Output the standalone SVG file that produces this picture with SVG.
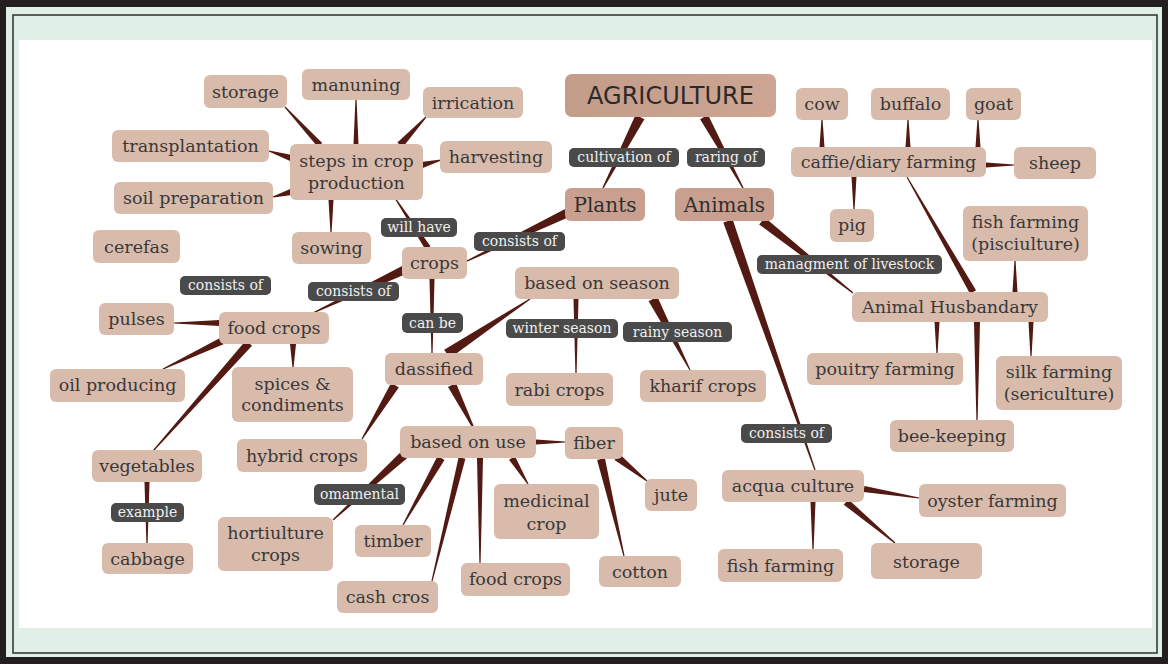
<svg xmlns="http://www.w3.org/2000/svg" width="1168" height="664" viewBox="0 0 1168 664">
<style>
.n rect{fill:#d9bbac;}
.n text{font-family:"DejaVu Serif",serif;font-size:17.5px;fill:#383838;text-anchor:middle;}
.b rect{fill:#c9a08f;}
.b text{font-family:"DejaVu Serif",serif;font-size:20px;fill:#2e2e2e;text-anchor:middle;}
.l rect{fill:#4a4a4a;}
.l text{font-family:"DejaVu Serif",serif;font-size:14px;fill:#f0f0f0;text-anchor:middle;}
#connectors polygon{fill:#521a12;}
</style>
<defs>
<linearGradient id="ag" x1="0" y1="0" x2="1" y2="0">
<stop offset="0" stop-color="#c39c8a"/><stop offset="1" stop-color="#cda592"/>
</linearGradient>
</defs>
<rect x="0" y="0" width="1168" height="664" fill="#231f20"/>
<rect x="6" y="7" width="1156" height="650" fill="#e1f0e6"/>
<rect x="13" y="15" width="1144" height="638" fill="none" stroke="#3a3a3a" stroke-width="1.6"/>
<rect x="19" y="40" width="1133" height="588" fill="#ffffff"/>

<g id="connectors">
<polygon points="635.6,114.7 602.4,187.7 603.6,188.3 644.4,119.3"/>
<polygon points="700.1,119.2 742.4,188.3 743.6,187.7 708.0,114.8"/>
<polygon points="565.1,209.0 464.7,261.5 465.3,262.5 569.0,217.1"/>
<polygon points="402.1,265.9 312.7,312.5 313.3,313.5 405.9,274.1"/>
<polygon points="430.5,246.3 395.5,197.7 394.5,198.3 425.5,249.7"/>
<polygon points="429.5,279 431.4,353 432.6,353 434.5,279"/>
<polygon points="449.8,358.2 530.3,299.5 529.7,298.5 444.2,349.8"/>
<polygon points="573.5,299 575.4,373 576.6,373 578.5,299"/>
<polygon points="648.6,301.3 689.5,370.3 690.5,369.7 657.4,296.7"/>
<polygon points="391.2,382.7 361.5,438.7 362.5,439.3 398.8,387.4"/>
<polygon points="448.0,387.0 472.1,427.4 473.9,426.6 456.0,383.0"/>
<polygon points="536,439.5 565,441.4 565,442.6 536,444.5"/>
<polygon points="614.5,460.1 646.6,481.5 647.4,480.5 619.5,453.9"/>
<polygon points="597.1,459.9 623.4,556.1 624.6,555.9 604.9,458.1"/>
<polygon points="509.0,459.8 527.5,484.3 528.5,483.7 515.0,456.2"/>
<polygon points="477,458 479.4,563 480.6,563 483,458"/>
<polygon points="458.6,457.2 431.4,580.9 432.6,581.1 465.4,458.8"/>
<polygon points="437.5,456.0 402.5,524.7 403.5,525.3 444.5,460.0"/>
<polygon points="401.0,451.7 332.6,519.6 333.4,520.4 407.0,458.3"/>
<polygon points="220,320 174,322.4 174,323.6 220,326"/>
<polygon points="220.5,337.8 162.7,368.5 163.3,369.5 223.5,344.2"/>
<polygon points="246.0,340.3 152.6,450.6 153.4,451.4 252.0,345.7"/>
<polygon points="290,344 292.4,367 293.6,367 296,344"/>
<polygon points="144.5,482 146.4,543 147.6,543 149.5,482"/>
<polygon points="322.2,143.0 285.4,106.6 284.6,107.4 317.8,147.0"/>
<polygon points="353.5,144 355.4,100 356.6,100 358.5,144"/>
<polygon points="402.6,147.4 426.4,117.4 425.6,116.6 397.4,142.6"/>
<polygon points="291.9,155.1 269.2,150.4 268.8,151.6 290.1,160.9"/>
<polygon points="290.2,189.1 272.8,196.4 273.2,197.6 291.8,194.9"/>
<polygon points="422.8,167.9 441.2,160.6 440.8,159.4 421.2,162.1"/>
<polygon points="328.5,200 330.4,232 331.6,232 333.5,200"/>
<polygon points="759.2,224.5 852.6,293.5 853.4,292.5 764.8,217.5"/>
<polygon points="723.3,222.6 814.4,470.2 815.6,469.8 732.7,219.4"/>
<polygon points="976.0,290.3 907.5,176.7 906.5,177.3 970.0,293.7"/>
<polygon points="819.5,147 821.4,120 822.6,120 824.5,147"/>
<polygon points="905.5,147 907.4,120 908.6,120 910.5,147"/>
<polygon points="975.5,147 977.4,120 978.6,120 980.5,147"/>
<polygon points="986,162.5 1014,164.4 1014,165.6 986,167.5"/>
<polygon points="851.5,177 853.4,209 854.6,209 856.5,177"/>
<polygon points="1012.5,292 1014.4,261 1015.6,261 1017.5,292"/>
<polygon points="934.5,322 936.4,353 937.6,353 939.5,322"/>
<polygon points="974,322 976.4,420 977.6,420 980,322"/>
<polygon points="1028.5,322 1030.4,356 1031.6,356 1033.5,322"/>
<polygon points="863.5,492.0 918.9,498.6 919.1,497.4 864.5,486.0"/>
<polygon points="810.5,502 812.4,549 813.6,549 815.5,502"/>
<polygon points="843.8,504.7 894.6,543.5 895.4,542.5 848.3,499.3"/>
</g>

<g id="agriculture"><rect x="565" y="74" width="211" height="43" rx="7" fill="url(#ag)"/><text x="670.5" y="104" font-family="DejaVu Sans, sans-serif" font-size="24" fill="#2a2a2a" text-anchor="middle">AGRICULTURE</text></g>
<g id="plants" class="b"><rect x="565" y="188" width="80" height="33" rx="6"/><text x="605" y="212">Plants</text></g>
<g id="animals" class="b"><rect x="675" y="188" width="99" height="33" rx="6"/><text x="724.5" y="212">Animals</text></g>

<g id="storage" class="n"><rect x="204" y="75" width="83" height="33" rx="6"/><text x="245.5" y="98">storage</text></g>
<g id="manuning" class="n"><rect x="302" y="69" width="108" height="31" rx="6"/><text x="356" y="91">manuning</text></g>
<g id="irrication" class="n"><rect x="423" y="87" width="100" height="31" rx="6"/><text x="473" y="109">irrication</text></g>
<g id="transplantation" class="n"><rect x="112" y="130" width="157" height="32" rx="6"/><text x="190.5" y="152">transplantation</text></g>
<g id="steps" class="n"><rect x="290" y="144" width="133" height="56" rx="6"/><text x="356.5" y="167">steps in crop</text><text x="356.5" y="189">production</text></g>
<g id="harvesting" class="n"><rect x="440" y="141" width="112" height="32" rx="6"/><text x="496" y="163">harvesting</text></g>
<g id="soil-preparation" class="n"><rect x="114" y="182" width="159" height="32" rx="6"/><text x="193.5" y="204">soil preparation</text></g>
<g id="cerefas" class="n"><rect x="93" y="230" width="87" height="33" rx="6"/><text x="136.5" y="253">cerefas</text></g>
<g id="sowing" class="n"><rect x="292" y="232" width="79" height="32" rx="6"/><text x="331.5" y="254">sowing</text></g>
<g id="crops" class="n"><rect x="402" y="247" width="65" height="32" rx="6"/><text x="434.5" y="269">crops</text></g>
<g id="based-on-season" class="n"><rect x="515" y="267" width="164" height="32" rx="6"/><text x="597" y="289">based on season</text></g>

<g id="cow" class="n"><rect x="796" y="88" width="52" height="32" rx="6"/><text x="822" y="110">cow</text></g>
<g id="buffalo" class="n"><rect x="871" y="88" width="79" height="32" rx="6"/><text x="910.5" y="110">buffalo</text></g>
<g id="goat" class="n"><rect x="966" y="88" width="55" height="32" rx="6"/><text x="993.5" y="110">goat</text></g>
<g id="caffie" class="n"><rect x="791" y="147" width="195" height="30" rx="6"/><text x="888.5" y="168">caffie/diary farming</text></g>
<g id="sheep" class="n"><rect x="1014" y="147" width="82" height="32" rx="6"/><text x="1055" y="169">sheep</text></g>
<g id="pig" class="n"><rect x="830" y="209" width="44" height="33" rx="6"/><text x="852" y="231">pig</text></g>
<g id="fish-pisciulture" class="n"><rect x="963" y="206" width="125" height="55" rx="6"/><text x="1025.5" y="228">fish farming</text><text x="1025.5" y="250">(pisciulture)</text></g>
<g id="animal-husbandary" class="n"><rect x="852" y="292" width="196" height="30" rx="6"/><text x="950" y="313">Animal Husbandary</text></g>
<g id="pouitry" class="n"><rect x="807" y="353" width="156" height="32" rx="6"/><text x="885" y="375">pouitry farming</text></g>
<g id="silk" class="n"><rect x="996" y="356" width="126" height="54" rx="6"/><text x="1059" y="378">silk farming</text><text x="1059" y="400">(sericulture)</text></g>
<g id="bee-keeping" class="n"><rect x="890" y="420" width="124" height="32" rx="6"/><text x="952" y="442">bee-keeping</text></g>
<g id="acqua-culture" class="n"><rect x="722" y="470" width="142" height="32" rx="6"/><text x="793" y="492">acqua culture</text></g>
<g id="oyster" class="n"><rect x="919" y="484" width="147" height="33" rx="6"/><text x="992.5" y="507">oyster farming</text></g>
<g id="fish-farming" class="n"><rect x="718" y="549" width="125" height="33" rx="6"/><text x="780.5" y="572">fish farming</text></g>
<g id="storage-2" class="n"><rect x="871" y="543" width="111" height="36" rx="6"/><text x="926.5" y="568">storage</text></g>

<g id="dassified" class="n"><rect x="385" y="353" width="98" height="32" rx="6"/><text x="434" y="375">dassified</text></g>
<g id="rabi" class="n"><rect x="506" y="373" width="107" height="33" rx="6"/><text x="559.5" y="396">rabi crops</text></g>
<g id="kharif" class="n"><rect x="640" y="370" width="126" height="32" rx="6"/><text x="703" y="392">kharif crops</text></g>
<g id="based-on-use" class="n"><rect x="400" y="426" width="136" height="32" rx="6"/><text x="468" y="448">based on use</text></g>
<g id="fiber" class="n"><rect x="565" y="427" width="58" height="32" rx="6"/><text x="594" y="449">fiber</text></g>
<g id="medicinal" class="n"><rect x="494" y="484" width="105" height="55" rx="6"/><text x="546.5" y="507">medicinal</text><text x="546.5" y="530">crop</text></g>
<g id="jute" class="n"><rect x="645" y="479" width="52" height="32" rx="6"/><text x="671" y="501">jute</text></g>
<g id="timber" class="n"><rect x="355" y="525" width="76" height="32" rx="6"/><text x="393" y="547">timber</text></g>
<g id="food-crops-2" class="n"><rect x="461" y="563" width="109" height="33" rx="6"/><text x="515.5" y="585">food crops</text></g>
<g id="cotton" class="n"><rect x="599" y="556" width="82" height="31" rx="6"/><text x="640" y="578">cotton</text></g>
<g id="cash-cros" class="n"><rect x="337" y="581" width="101" height="32" rx="6"/><text x="387.5" y="603">cash cros</text></g>

<g id="pulses" class="n"><rect x="99" y="303" width="75" height="32" rx="6"/><text x="136.5" y="325">pulses</text></g>
<g id="food-crops" class="n"><rect x="219" y="312" width="110" height="32" rx="6"/><text x="274" y="334">food crops</text></g>
<g id="oil-producing" class="n"><rect x="50" y="369" width="135" height="33" rx="6"/><text x="117.5" y="391">oil producing</text></g>
<g id="spices" class="n"><rect x="232" y="367" width="121" height="55" rx="6"/><text x="292.5" y="390">spices &amp;</text><text x="292.5" y="411">condiments</text></g>
<g id="hybrid" class="n"><rect x="237" y="439" width="130" height="33" rx="6"/><text x="302" y="462">hybrid crops</text></g>
<g id="vegetables" class="n"><rect x="92" y="450" width="110" height="32" rx="6"/><text x="147" y="472">vegetables</text></g>
<g id="cabbage" class="n"><rect x="102" y="543" width="91" height="31" rx="6"/><text x="147.5" y="565">cabbage</text></g>
<g id="hortiulture" class="n"><rect x="218" y="517" width="115" height="54" rx="6"/><text x="275.5" y="539">hortiulture</text><text x="275.5" y="561">crops</text></g>

<g id="lbl-cultivation" class="l"><rect x="569" y="148" width="110" height="19" rx="5"/><text x="624" y="162">cultivation of</text></g>
<g id="lbl-raring" class="l"><rect x="687" y="148" width="78" height="19" rx="5"/><text x="726" y="162">raring of</text></g>
<g id="lbl-will-have" class="l"><rect x="381" y="218" width="76" height="19" rx="5"/><text x="419" y="232">will have</text></g>
<g id="lbl-consists-1" class="l"><rect x="474" y="232" width="91" height="19" rx="5"/><text x="519.5" y="246">consists of</text></g>
<g id="lbl-consists-2" class="l"><rect x="308" y="282" width="91" height="19" rx="5"/><text x="353.5" y="296">consists of</text></g>
<g id="lbl-consists-3" class="l"><rect x="180" y="276" width="91" height="19" rx="5"/><text x="225.5" y="290">consists of</text></g>
<g id="lbl-can-be" class="l"><rect x="402" y="313" width="61" height="20" rx="5"/><text x="432.5" y="328">can be</text></g>
<g id="lbl-winter" class="l"><rect x="506" y="319" width="112" height="19" rx="5"/><text x="562" y="333">winter season</text></g>
<g id="lbl-rainy" class="l"><rect x="623" y="322" width="109" height="20" rx="5"/><text x="677.5" y="337">rainy season</text></g>
<g id="lbl-omamental" class="l"><rect x="314" y="484" width="91" height="21" rx="5"/><text x="359.5" y="499">omamental</text></g>
<g id="lbl-example" class="l"><rect x="111" y="503" width="73" height="19" rx="5"/><text x="147.5" y="517">example</text></g>
<g id="lbl-managment" class="l"><rect x="757" y="255" width="185" height="19" rx="5"/><text x="849.5" y="269">managment of livestock</text></g>
<g id="lbl-consists-4" class="l"><rect x="741" y="424" width="91" height="19" rx="5"/><text x="786.5" y="438">consists of</text></g>
</svg>
